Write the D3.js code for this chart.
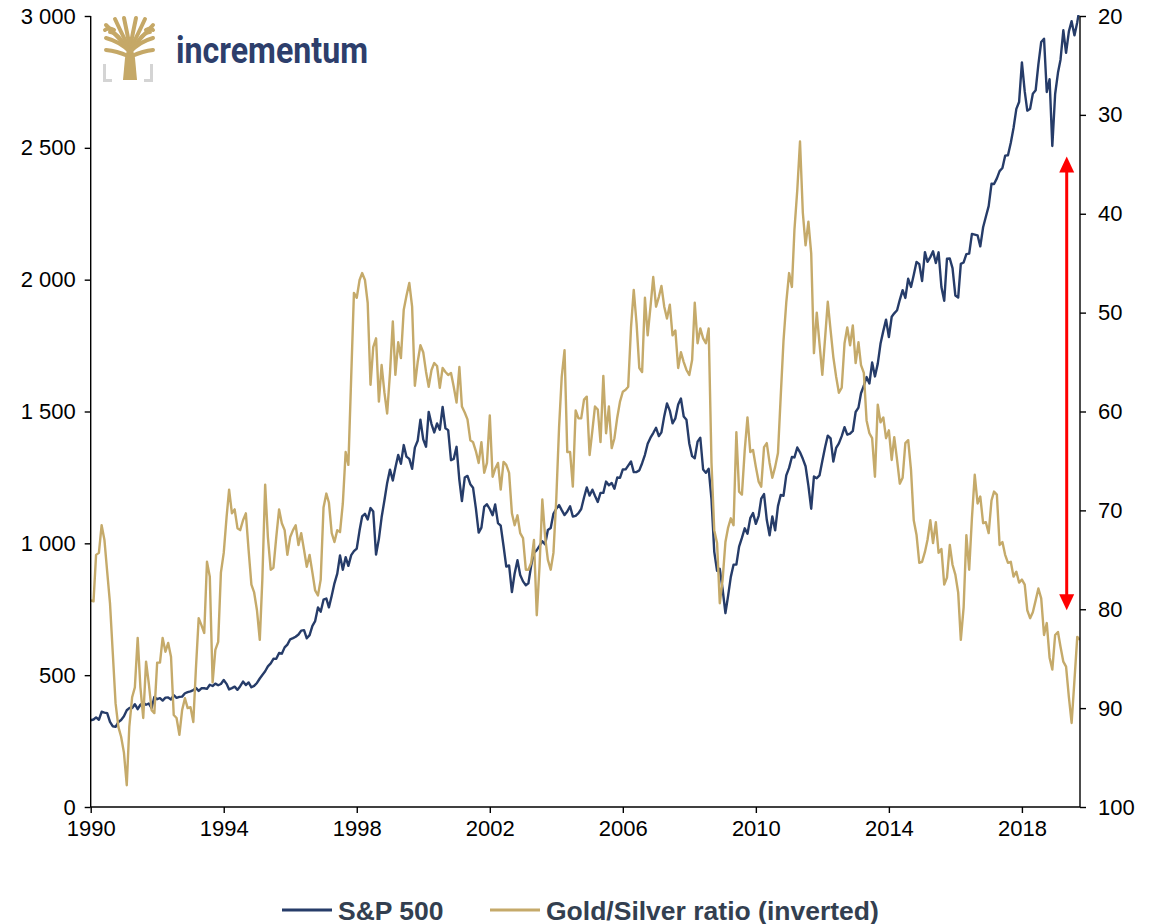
<!DOCTYPE html>
<html>
<head>
<meta charset="utf-8">
<script src="https://cdn.jsdelivr.net/npm/d3@7"></script>
<style>
  body { margin: 0; background: #ffffff; }
  svg { display: block; }
  text { font-family: Arial, "Liberation Sans", sans-serif; }
</style>
</head>
<body>
<svg id="chart" width="1158" height="924"></svg>
<script>
// monthly series, first value = Jan 1990, last = Oct 2019
var startYear = 1990;
var sp500 = [
  329.1, 331.9, 339.9, 330.8, 361.2, 358.0, 356.2, 322.6, 306.1, 304.0, 322.2, 330.2,
  343.9, 367.1, 375.2, 375.3, 389.8, 371.2, 387.8, 395.4, 387.9, 392.5, 375.2, 417.1,
  408.8, 412.7, 403.7, 414.9, 415.4, 408.1, 424.2, 414.0, 417.8, 418.7, 431.4, 435.7,
  438.8, 443.4, 451.7, 440.2, 450.2, 450.5, 448.1, 463.6, 458.9, 467.8, 461.8, 466.5,
  481.6, 467.1, 445.8, 450.9, 456.5, 444.3, 458.3, 475.5, 462.7, 472.4, 454.0, 459.3,
  470.4, 487.4, 500.7, 514.7, 533.4, 544.8, 562.1, 561.9, 584.4, 581.5, 605.4, 615.9,
  636.0, 640.4, 645.5, 654.2, 669.1, 670.6, 639.9, 652.0, 687.3, 705.3, 757.0, 740.7,
  786.2, 790.8, 757.1, 801.3, 848.3, 885.1, 954.3, 899.5, 947.3, 914.6, 955.4, 970.4,
  980.3, 1049.3, 1101.8, 1111.8, 1090.8, 1133.8, 1120.7, 957.3, 1017.0, 1098.7, 1163.6, 1229.2,
  1279.6, 1238.3, 1286.4, 1335.2, 1301.8, 1372.7, 1328.7, 1320.4, 1282.7, 1362.9, 1388.9, 1469.3,
  1394.5, 1366.4, 1498.6, 1452.4, 1420.6, 1454.6, 1430.8, 1517.7, 1436.5, 1429.4, 1315.2, 1320.3,
  1366.0, 1239.9, 1160.3, 1249.5, 1255.8, 1224.4, 1211.2, 1133.6, 1040.9, 1059.8, 1139.5, 1148.1,
  1130.2, 1106.7, 1147.4, 1076.9, 1067.1, 989.8, 911.6, 916.1, 815.3, 885.8, 936.3, 879.8,
  855.7, 841.2, 848.2, 916.9, 963.6, 974.5, 990.3, 1008.0, 996.0, 1050.7, 1058.2, 1111.9,
  1131.1, 1144.9, 1126.2, 1107.3, 1120.7, 1140.8, 1101.7, 1104.2, 1114.6, 1130.2, 1173.8, 1211.9,
  1181.3, 1203.6, 1180.6, 1156.9, 1191.5, 1191.3, 1234.2, 1220.3, 1228.8, 1207.0, 1249.5, 1248.3,
  1280.1, 1280.7, 1294.9, 1310.6, 1270.1, 1270.2, 1276.7, 1303.8, 1335.9, 1377.9, 1400.6, 1418.3,
  1438.2, 1406.8, 1420.9, 1482.4, 1530.6, 1503.4, 1455.3, 1474.0, 1526.8, 1549.4, 1481.1, 1468.4,
  1378.6, 1330.6, 1322.7, 1385.6, 1400.4, 1280.0, 1267.4, 1282.8, 1166.4, 968.8, 896.2, 903.3,
  825.9, 735.1, 797.9, 872.8, 919.1, 919.3, 987.5, 1020.6, 1057.1, 1036.2, 1095.6, 1115.1,
  1073.9, 1104.5, 1169.4, 1186.7, 1089.4, 1030.7, 1101.6, 1049.3, 1141.2, 1183.3, 1180.6, 1257.6,
  1286.1, 1327.2, 1325.8, 1363.6, 1345.2, 1320.6, 1292.3, 1218.9, 1131.4, 1253.3, 1247.0, 1257.6,
  1312.4, 1365.7, 1408.5, 1397.9, 1310.3, 1362.2, 1379.3, 1406.6, 1440.7, 1412.2, 1416.2, 1426.2,
  1498.1, 1514.7, 1569.2, 1597.6, 1630.7, 1606.3, 1685.7, 1633.0, 1681.6, 1756.5, 1805.8, 1848.4,
  1782.6, 1859.5, 1872.3, 1884.0, 1923.6, 1960.2, 1930.7, 2003.4, 1972.3, 2018.1, 2067.6, 2058.9,
  1995.0, 2104.5, 2067.9, 2085.5, 2107.4, 2063.1, 2103.8, 1972.2, 1920.0, 2079.4, 2080.4, 2043.9,
  1940.2, 1932.2, 2059.7, 2065.3, 2097.0, 2098.9, 2173.6, 2171.0, 2168.3, 2126.2, 2198.8, 2238.8,
  2278.9, 2363.6, 2362.7, 2384.2, 2411.8, 2423.4, 2470.3, 2471.7, 2519.4, 2575.3, 2647.6, 2673.6,
  2823.8, 2713.8, 2640.9, 2648.1, 2705.3, 2718.4, 2816.3, 2901.5, 2914.0, 2711.7, 2760.2, 2506.9,
  2704.1, 2784.5, 2834.4, 2945.8, 2860.0, 2941.8, 2980.4, 2926.5, 2976.7, 3037.6
];
var goldSilver = [
  79.1, 79.2, 74.5, 74.3, 71.5, 73.0, 76.2, 79.4, 84.5, 89.5, 91.9, 92.9,
  94.5, 97.8, 91.9, 88.9, 87.9, 82.9, 87.9, 91.0, 85.3, 87.5, 90.2, 90.5,
  85.4, 85.4, 82.9, 84.3, 83.4, 84.8, 90.7, 91.0, 92.7, 90.2, 89.0, 90.0,
  89.9, 91.4, 86.1, 80.9, 81.6, 82.4, 75.2, 76.7, 87.4, 84.1, 83.3, 76.3,
  74.3, 70.7, 67.9, 70.3, 69.9, 71.8, 72.0, 71.0, 70.3, 74.0, 77.5, 78.3,
  80.1, 83.1, 77.0, 67.4, 72.7, 76.0, 75.8, 72.7, 69.9, 71.3, 72.0, 74.5,
  72.7, 72.0, 71.5, 73.5, 72.3, 74.0, 75.7, 74.5, 76.3, 78.1, 78.6, 77.0,
  69.7, 68.3, 69.2, 72.3, 73.2, 72.0, 72.2, 69.3, 64.1, 65.4, 56.5, 48.0,
  48.5, 46.7, 46.0, 46.7, 49.0, 57.3, 53.5, 52.6, 59.0, 55.3, 58.1, 60.2,
  56.1, 50.9, 56.3, 53.0, 54.6, 49.7, 48.3, 47.0, 49.4, 57.4, 55.0, 53.3,
  54.0, 56.0, 57.5, 55.8, 55.1, 55.4, 57.6, 55.6, 56.0, 56.3, 56.1, 57.5,
  59.1, 55.5, 59.5, 60.1, 60.8, 62.9, 63.1, 64.0, 65.2, 63.1, 66.2, 65.2,
  60.4, 66.6, 65.8, 65.2, 67.9, 65.1, 65.4, 66.2, 70.3, 71.5, 70.5, 72.3,
  72.8, 76.0, 76.0, 75.3, 73.0, 80.6, 75.7, 68.9, 72.7, 75.0, 76.0, 74.3,
  68.9, 61.6, 56.5, 53.8, 64.1, 64.1, 67.6, 59.9, 60.7, 60.7, 58.8, 58.5,
  64.4, 61.9, 59.5, 59.8, 63.1, 56.4, 62.2, 59.5, 63.7, 62.7, 60.6, 59.0,
  58.0, 57.8, 57.5, 51.5, 47.7, 51.1, 55.6, 56.0, 48.5, 52.3, 49.4, 46.4,
  49.4, 48.4, 47.3, 49.4, 50.6, 49.2, 52.3, 51.8, 55.6, 54.0, 55.0, 55.8,
  56.3, 54.8, 49.0, 53.1, 51.6, 52.6, 53.1, 51.6, 65.2, 72.0, 73.3, 79.4,
  77.0, 73.2, 71.8, 70.8, 71.5, 62.1, 68.1, 68.4, 63.9, 60.6, 64.1, 63.9,
  65.6, 67.1, 67.6, 63.6, 63.2, 65.2, 66.7, 65.6, 64.2, 58.5, 52.8, 49.0,
  46.0, 47.4, 41.6, 37.6, 32.7, 39.9, 43.2, 40.8, 44.0, 54.1, 50.0, 53.1,
  56.3, 52.5, 48.9, 51.8, 54.5, 56.5, 58.1, 57.6, 53.1, 51.5, 53.3, 51.3,
  55.1, 53.0, 55.3, 56.1, 60.9, 62.2, 62.7, 66.6, 59.3, 61.1, 60.6, 62.7,
  61.9, 64.9, 62.6, 64.9, 67.3, 66.7, 63.2, 62.9, 65.9, 71.0, 72.5, 75.3,
  75.2, 74.2, 73.0, 71.0, 73.3, 71.2, 74.3, 73.9, 77.5, 76.8, 73.5, 75.5,
  76.5, 78.3, 83.1, 79.8, 72.5, 76.0, 70.8, 66.4, 69.3, 68.6, 71.3, 71.2,
  72.3, 69.0, 68.1, 68.4, 73.5, 73.2, 74.5, 75.3, 75.2, 76.7, 76.2, 77.3,
  77.0, 77.5, 80.1, 80.9, 80.3, 79.1, 77.9, 78.9, 82.6, 81.4, 84.9, 86.1,
  82.6, 82.3, 83.8, 85.3, 85.8, 88.9, 91.5, 87.2, 82.8, 83.1
];

var leftTicks = [0, 500, 1000, 1500, 2000, 2500, 3000];
var rightTicks = [20, 30, 40, 50, 60, 70, 80, 90, 100];
var yearTicks = [1990, 1994, 1998, 2002, 2006, 2010, 2014, 2018];
var seriesNames = ['S&P 500', 'Gold/Silver ratio (inverted)'];
var seriesColors = ['#263c69', '#c5aa6a'];
// red arrow: date and the two ratio levels it spans
var arrowDate = new Date(2019, 4, 8);
var arrowRange = [34.2, 80.1];

var svg = d3.select('#chart');
var plotLeft = 90.7, plotRight = 1080, plotTop = 16, plotBottom = 807;

var months = sp500.map(function(d, i) { return new Date(startYear, i, 1); });

var x = d3.scaleTime()
  .domain([months[0], months[months.length - 1]])
  .range([plotLeft, plotRight]);
var yLeft = d3.scaleLinear().domain([0, 3000]).range([plotBottom, plotTop]);
var yRight = d3.scaleLinear().domain([20, 100]).range([plotTop, plotBottom]);

var fmt = d3.formatLocale({decimal: ',', thousands: '\u00a0', grouping: [3], currency: ['', '']}).format(',d');

svg.append('clipPath').attr('id', 'plot-clip')
  .append('rect')
  .attr('x', plotLeft).attr('y', plotTop - 1)
  .attr('width', plotRight - plotLeft).attr('height', plotBottom - plotTop + 1);

// series lines
var spLine = d3.line()
  .x(function(d, i) { return x(months[i]); })
  .y(function(d) { return yLeft(d); });
var gsLine = d3.line()
  .x(function(d, i) { return x(months[i]); })
  .y(function(d) { return yRight(d); });

var lines = svg.append('g').attr('clip-path', 'url(#plot-clip)');
lines.append('path')
  .datum(sp500)
  .attr('d', spLine)
  .attr('fill', 'none')
  .attr('stroke', seriesColors[0])
  .attr('stroke-width', 2.4)
  .attr('stroke-linejoin', 'round');
lines.append('path')
  .datum(goldSilver)
  .attr('d', gsLine)
  .attr('fill', 'none')
  .attr('stroke', seriesColors[1])
  .attr('stroke-width', 2.4)
  .attr('stroke-linejoin', 'round');

// axes
var axisL = d3.axisLeft(yLeft).tickValues(leftTicks).tickFormat(fmt).tickSize(6).tickPadding(9);
var axisR = d3.axisRight(yRight).tickValues(rightTicks).tickSize(6).tickPadding(12);
var axisB = d3.axisBottom(x)
  .tickValues(yearTicks.map(function(y) { return new Date(y, 0, 1); }))
  .tickFormat(d3.timeFormat('%Y'))
  .tickSize(6).tickPadding(7);

function styleAxis(g) {
  g.select('.domain').remove();
  g.selectAll('.tick line').attr('stroke', '#000').attr('stroke-width', 1.4);
  g.selectAll('.tick text')
    .attr('fill', '#000')
    .style('font-size', '22px')
    .style('font-family', 'Arial, "Liberation Sans", sans-serif');
}

svg.append('g').attr('transform', 'translate(' + plotLeft + ',0)').call(axisL).call(styleAxis);
svg.append('g').attr('transform', 'translate(' + plotRight + ',0)').call(axisR).call(styleAxis);
svg.append('g').attr('transform', 'translate(0,' + plotBottom + ')').call(axisB).call(styleAxis);

var frame = svg.append('g').attr('stroke', '#000').attr('stroke-width', 1.4);
frame.append('line').attr('x1', plotLeft).attr('x2', plotLeft).attr('y1', plotTop).attr('y2', plotBottom);
frame.append('line').attr('x1', plotRight).attr('x2', plotRight).attr('y1', plotTop).attr('y2', plotBottom);
frame.append('line').attr('x1', plotLeft).attr('x2', plotRight).attr('y1', plotBottom).attr('y2', plotBottom);

// red double arrow
var ax = x(arrowDate), ay1 = yRight(arrowRange[0]), ay2 = yRight(arrowRange[1]);
var arrow = svg.append('g').attr('fill', '#ff0000');
arrow.append('line')
  .attr('x1', ax).attr('x2', ax)
  .attr('y1', ay1 + 12).attr('y2', ay2 - 12)
  .attr('stroke', '#ff0000').attr('stroke-width', 3);
arrow.append('path')
  .attr('d', 'M' + ax + ',' + ay1 + 'L' + (ax - 7.5) + ',' + (ay1 + 16) + 'L' + (ax + 7.5) + ',' + (ay1 + 16) + 'Z');
arrow.append('path')
  .attr('d', 'M' + ax + ',' + ay2 + 'L' + (ax - 7.5) + ',' + (ay2 - 16) + 'L' + (ax + 7.5) + ',' + (ay2 - 16) + 'Z');

// legend
var legend = svg.append('g').attr('transform', 'translate(0,910)');
var legendX = [282, 490];
seriesNames.forEach(function(name, i) {
  legend.append('line')
    .attr('x1', legendX[i]).attr('x2', legendX[i] + 50)
    .attr('y1', 0).attr('y2', 0)
    .attr('stroke', seriesColors[i]).attr('stroke-width', 3);
  legend.append('text')
    .attr('x', legendX[i] + 56).attr('y', 9.5)
    .attr('fill', '#333f50')
    .style('font-size', '26.5px')
    .style('font-weight', 'bold')
    .text(name);
});

// logo
var logo = svg.append('g').attr('transform', 'translate(103,18)');
var gold = '#c5a867';
logo.append('path')
  .attr('d', 'M20,62 L22,40 Q24,32 25,28 L29,28 Q30,32 32,40 L34,62 Z')
  .attr('fill', gold);
var branches = [
  'M27,34 Q18,24 3,20', 'M27,32 Q14,18 3,7', 'M27,32 Q18,14 12,1',
  'M27,30 Q24,14 21,0', 'M27,30 Q30,14 33,0', 'M27,32 Q36,14 42,1',
  'M27,32 Q40,18 50,7', 'M27,34 Q36,24 50,20', 'M25,38 Q14,33 3,32',
  'M29,38 Q40,33 50,32', 'M11,12 Q6,9 2,12', 'M43,12 Q48,9 50,12',
  'M18,22 Q12,14 7,14', 'M36,22 Q42,14 47,14'
];
logo.selectAll('path.branch')
  .data(branches)
  .enter().append('path')
  .attr('class', 'branch')
  .attr('d', function(d) { return d; })
  .attr('fill', 'none')
  .attr('stroke', gold)
  .attr('stroke-width', 4)
  .attr('stroke-linecap', 'round');
logo.append('path')
  .attr('d', 'M1.5,46 V62.5 H9 M48.5,46 V62.5 H41')
  .attr('fill', 'none')
  .attr('stroke', '#d4d4d4')
  .attr('stroke-width', 3);
svg.append('text')
  .attr('x', 176).attr('y', 63)
  .attr('fill', '#2d3e6b')
  .attr('textLength', 192)
  .attr('lengthAdjust', 'spacingAndGlyphs')
  .style('font-size', '37px')
  .style('font-weight', 'bold')
  .style('font-family', 'Roboto, Arial, sans-serif')
  .text('incrementum');
</script>
</body>
</html>
